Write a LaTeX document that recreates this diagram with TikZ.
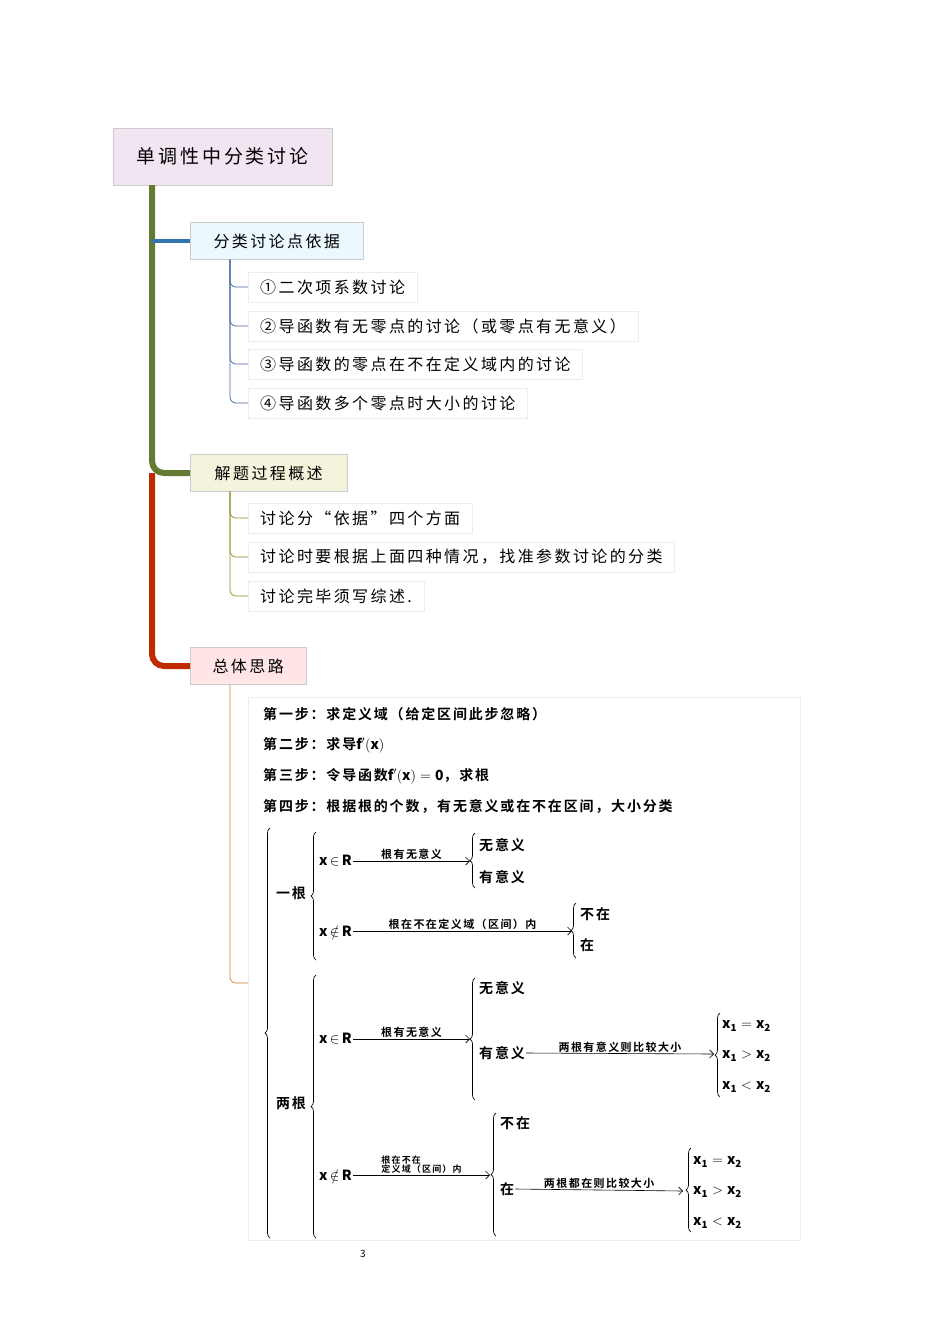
\documentclass[tikz,border=0pt]{standalone}
\usepackage{fontspec}
\setmainfont[LetterSpace=15]{Noto Sans CJK SC}
\newfontfamily\boldcjk[LetterSpace=13]{Noto Sans CJK SC Bold}
\usetikzlibrary{arrows.meta,decorations.pathreplacing}

\begin{document}
\begin{tikzpicture}[x=1pt,y=-1pt,>={Straight Barb[length=4pt]},
  topic/.style={draw=gray!40,anchor=west,inner xsep=0pt,minimum height=37pt,font=\fontsize{16}{18}\selectfont},
  item/.style={draw=gray!15,anchor=west,inner xsep=12pt,minimum height=30pt,font=\fontsize{16}{18}\selectfont},
  sub/.style={line width=0.7pt,rounded corners=6pt},
  trunk/.style={line width=6pt,rounded corners=12pt},
  pic/.style={font=\boldcjk\fontsize{14}{16}\selectfont,inner sep=1pt},
  lbl/.style={font=\boldcjk\fontsize{11}{12}\selectfont,inner sep=1pt,above},
  brc/.style={decorate,decoration={brace,amplitude=5pt},line width=0.7pt}]
  \useasboundingbox (0,0) rectangle (950,1344);

  % title and topics
  \node[draw=gray!40,fill=violet!10,anchor=north west,minimum width=219pt,minimum height=57pt,font=\fontsize{19}{21}\selectfont] (title) at (113,128) {单调性中分类讨论};
  \node[topic,fill=cyan!8,minimum width=173pt] (b1) at (190,241) {分类讨论点依据};
  \node[topic,fill=olive!10,minimum width=157pt] (b2) at (190,473) {解题过程概述};
  \node[topic,fill=red!10,minimum width=116pt] (b3) at (190,666) {总体思路};
  \coordinate (tr) at (152,185);
  \coordinate (s) at (230,0);

  \draw[trunk,color=red!55!orange!75!black] (tr |- b2.west) |- (b3.west);
  \draw[trunk,color=olive!60!green!70!black] (tr) |- (b2.west);
  \draw[line width=4pt,color=cyan!60!blue!80!black] (tr |- b1.west) -- (b1.west);

  % items
  \node[item] (i1) at (248,287) {①二次项系数讨论};
  \node[item] (i2) at (248,326) {②导函数有无零点的讨论（或零点有无意义）};
  \node[item] (i3) at (248,364) {③导函数的零点在不在定义域内的讨论};
  \node[item] (i4) at (248,403) {④导函数多个零点时大小的讨论};
  \node[item] (j1) at (248,518) {讨论分“依据”四个方面};
  \node[item] (j2) at (248,557) {讨论时要根据上面四种情况，找准参数讨论的分类};
  \node[item] (j3) at (248,596) {讨论完毕须写综述.};
  \node[draw=gray!15,anchor=north west,minimum width=552pt,minimum height=543pt] (img) at (248,697) {};

  \foreach \i in {1,...,4}
    \draw[sub,cyan!50!blue!70!black] (b1.south -| s) |- (i\i.west);
  \foreach \j in {1,2,3}
    \draw[sub,olive!70!gray] (b2.south -| s) |- (j\j.west);
  \draw[sub,brown!80!orange] (b3.south -| s) |- (img.west |- 0,983);

  % steps
  \node[pic,anchor=west] (st1) at (262,714) {第一步：求定义域（给定区间此步忽略）};
  \node[pic,anchor=west] (st2) at (262,745) {第二步：求导$\mathbf{f'(x)}$};
  \node[pic,anchor=west] (st3) at (262,776) {第三步：令导函数$\mathbf{f'(x)=0}$，求根};
  \node[pic,anchor=west] (st4) at (262,806) {第四步：根据根的个数，有无意义或在不在区间，大小分类};

  \draw[brc] (270,1238) -- (270,828);
  \node[pic] (one) at (291,893) {一根};
  \node[pic] (two) at (291,1103) {两根};
  \draw[brc] (316,960) -- (316,832);
  \draw[brc] (316,1238) -- (316,975);

  % one root
  \node[pic,anchor=west] (a1) at (318,861) {$\mathbf{x}\,{\in}\,\mathbf{R}$};
  \node[pic,anchor=west] (a2) at (318,931) {$\mathbf{x}\,{\notin}\,\mathbf{R}$};
  \coordinate (a1e) at (470,861);
  \coordinate (a2e) at (572,931);
  \draw[->,line width=0.6pt] (a1.east) -- node[lbl] {根有无意义} (a1e);
  \draw[->,line width=0.6pt] (a2.east) -- node[lbl] {根在不在定义域（区间）内} (a2e);
  \draw[brc] (475,888) -- (475,833);
  \node[pic,anchor=west] at (478,845) {无意义};
  \node[pic,anchor=west] at (478,877) {有意义};
  \draw[brc] (576,958) -- (576,903);
  \node[pic,anchor=west] at (579,914) {不在};
  \node[pic,anchor=west] at (579,945) {在};

  % two roots
  \node[pic,anchor=west] (c1) at (318,1039) {$\mathbf{x}\,{\in}\,\mathbf{R}$};
  \node[pic,anchor=west] (c2) at (318,1175) {$\mathbf{x}\,{\notin}\,\mathbf{R}$};
  \coordinate (c1e) at (470,1039);
  \coordinate (c2e) at (490,1175);
  \draw[->,line width=0.6pt] (c1.east) -- node[lbl] {根有无意义} (c1e);
  \draw[->,line width=0.6pt] (c2.east) -- node[lbl,align=left,font=\boldcjk\fontsize{9}{9}\selectfont] {根在不在\\定义域（区间）内} (c2e);
  \draw[brc] (475,1100) -- (475,978);
  \node[pic,anchor=west] at (478,988) {无意义};
  \node[pic,anchor=west] (d2) at (478,1053) {有意义};
  \coordinate (d2e) at (714,1054);
  \draw[->,line width=0.6pt] (d2.east) -- node[lbl] {两根有意义则比较大小} (d2e);
  \draw[brc] (720,1097) -- (720,1013);
  \node[pic,anchor=west] at (721,1026) {$\mathbf{x_1=x_2}$};
  \node[pic,anchor=west] at (721,1056) {$\mathbf{x_1>x_2}$};
  \node[pic,anchor=west] at (721,1087) {$\mathbf{x_1<x_2}$};
  \draw[brc] (496,1236) -- (496,1113);
  \node[pic,anchor=west] at (499,1123) {不在};
  \node[pic,anchor=west] (e2) at (499,1189) {在};
  \coordinate (e2e) at (683,1191);
  \draw[->,line width=0.6pt] (e2.east) -- node[lbl] {两根都在则比较大小} (e2e);
  \draw[brc] (691,1232) -- (691,1148);
  \node[pic,anchor=west] at (692,1162) {$\mathbf{x_1=x_2}$};
  \node[pic,anchor=west] at (692,1192) {$\mathbf{x_1>x_2}$};
  \node[pic,anchor=west] at (692,1223) {$\mathbf{x_1<x_2}$};

  \node[font=\fontsize{10}{12}\selectfont] (pg) at (363,1254) {3};
\end{tikzpicture}
\end{document}
